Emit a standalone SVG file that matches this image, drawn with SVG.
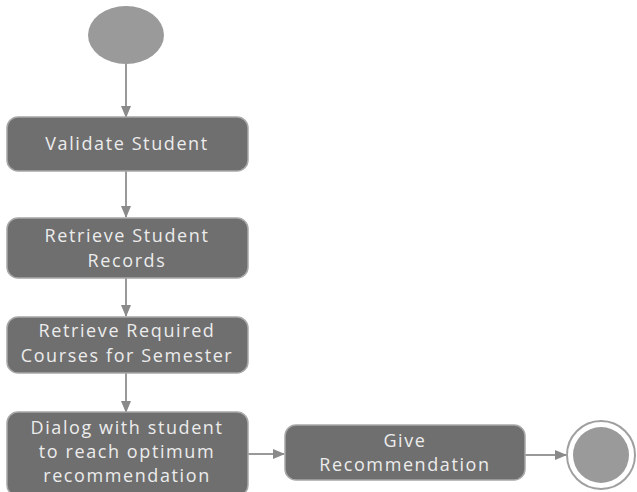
<svg xmlns="http://www.w3.org/2000/svg" width="637" height="492" viewBox="0 0 637 492">
<style>
.box{fill:#6f6f6f;stroke:#a8a8a8;stroke-width:1.5}
.t{font-family:"Open Sans","Noto Sans",sans-serif;font-size:18px;letter-spacing:1.6px;fill:#ececec;text-anchor:middle}
.c{stroke:#999;stroke-width:2;fill:none;marker-end:url(#ah)}
</style>
<defs>
<marker id="ah" markerWidth="12" markerHeight="10" refX="11" refY="5" orient="auto" markerUnits="userSpaceOnUse">
<path d="M0,0 L12,5 L0,10 Z" fill="#8a8a8a"/>
</marker>
</defs>
<rect width="637" height="492" fill="#fff"/>
<g id="connectors">
<line class="c" x1="126" y1="63" x2="126" y2="117"/>
<line class="c" x1="126" y1="171" x2="126" y2="217"/>
<line class="c" x1="126" y1="278" x2="126" y2="316"/>
<line class="c" x1="126" y1="373" x2="126" y2="412"/>
<line class="c" x1="248" y1="454" x2="284" y2="454"/>
<line class="c" x1="525" y1="455" x2="566" y2="455"/>
</g>
<g id="start"><ellipse cx="126" cy="35" rx="38" ry="29" fill="#9a9a9a"/></g>
<g id="validate">
<rect class="box" x="7" y="117" width="241" height="54" rx="11"/>
<text class="t" x="127" y="150">Validate Student</text>
</g>
<g id="retrieve-records">
<rect class="box" x="7" y="218" width="241" height="60" rx="11"/>
<text class="t" x="127" y="242">Retrieve Student</text>
<text class="t" x="127" y="267">Records</text>
</g>
<g id="retrieve-courses">
<rect class="box" x="7" y="317" width="241" height="56" rx="11"/>
<text class="t" x="127" y="337">Retrieve Required</text>
<text class="t" x="127" y="362">Courses for Semester</text>
</g>
<g id="dialog">
<rect class="box" x="7" y="412" width="241" height="84" rx="11"/>
<text class="t" x="127" y="434">Dialog with student</text>
<text class="t" x="127" y="458">to reach optimum</text>
<text class="t" x="127" y="482">recommendation</text>
</g>
<g id="give">
<rect class="box" x="285" y="425" width="240" height="55" rx="11"/>
<text class="t" x="405" y="447">Give</text>
<text class="t" x="405" y="471">Recommendation</text>
</g>
<g id="end">
<circle cx="601" cy="455" r="34" fill="#fff" stroke="#a0a0a0" stroke-width="2"/>
<circle cx="601" cy="455" r="28" fill="#9a9a9a"/>
</g>
</svg>
